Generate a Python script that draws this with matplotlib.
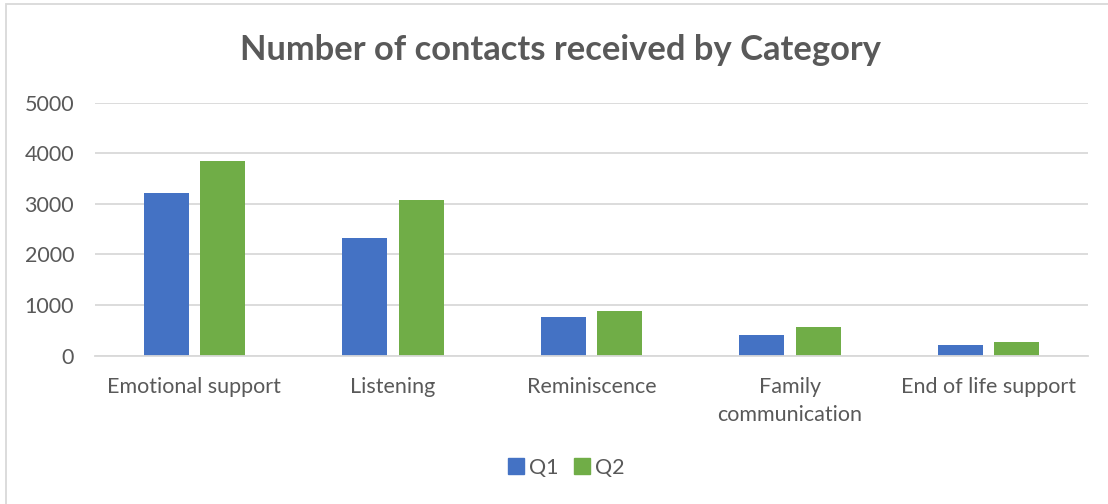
import matplotlib
matplotlib.use("Agg")
import matplotlib.pyplot as plt
import numpy as np
from matplotlib.patches import Rectangle
from matplotlib.lines import Line2D

categories = ["Emotional support", "Listening", "Reminiscence",
              "Family\ncommunication", "End of life support"]
q1 = [3220, 2330, 770, 415, 205]
q2 = [3850, 3080, 890, 560, 278]
series_names = ["Q1", "Q2"]
y_ticks = [0, 1000, 2000, 3000, 4000, 5000]

BLUE = "#4472C4"
GREEN = "#70AD47"
TEXT = "#595959"
GRID = "#D9D9D9"

plt.rcParams["font.family"] = ["Lato", "DejaVu Sans"]

fig = plt.figure(figsize=(11.08, 5.04), dpi=100)
fig.patch.set_facecolor("white")

# outer chart border
fig.add_artist(Rectangle((6 / 1108, -0.1), 1.2, 1.0 - 4.5 / 504 + 0.1,
                         transform=fig.transFigure, fill=False,
                         edgecolor=GRID, linewidth=1.3))

ax = fig.add_axes([95 / 1108, 1 - 355.7 / 504, 993 / 1108, 253 / 504])
x = np.arange(len(categories))
w = 0.227
ax.bar(x - 0.142, q1, width=w, color=BLUE, zorder=3, label=series_names[0])
ax.bar(x + 0.142, q2, width=w, color=GREEN, zorder=3, label=series_names[1])

ax.set_xlim(-0.5, len(categories) - 0.5)
ax.set_ylim(0, 5000)
ax.set_yticks(y_ticks)
ax.set_yticklabels([str(v) for v in y_ticks])
ax.set_xticks(x)
ax.set_xticklabels(categories, linespacing=1.5)
ax.tick_params(axis="both", length=0, labelsize=15.5, colors=TEXT)
ax.tick_params(axis="y", pad=15)
ax.tick_params(axis="x", pad=15)
ax.yaxis.grid(True, color=GRID, linewidth=1.3, zorder=0)
for s in ["top", "right", "left"]:
    ax.spines[s].set_visible(False)
ax.spines["bottom"].set_color(GRID)
ax.spines["bottom"].set_linewidth(1.3)
ax.spines["bottom"].set_zorder(4)

fig.text(561 / 1108, 1 - 50 / 504, "Number of contacts received by Category",
         ha="center", va="center", fontsize=24.8, fontweight="bold", color=TEXT)

handles = [Line2D([], [], marker="s", linestyle="none", markersize=11,
                  markerfacecolor=c, markeredgecolor=c) for c in (BLUE, GREEN)]
fig.legend(handles, series_names, loc="center", bbox_to_anchor=(565 / 1108, 1 - 468 / 504),
           ncol=2, frameon=False, fontsize=15.5, labelcolor=TEXT,
           handletextpad=0.1, columnspacing=0.6, handlelength=1.0)

fig.savefig("out.png", dpi=100, facecolor="white")
